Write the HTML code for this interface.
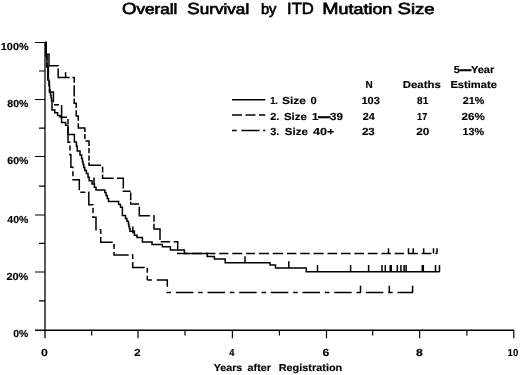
<!DOCTYPE html>
<html><head><meta charset="utf-8"><style>
html,body{margin:0;padding:0;background:#fff;}
svg{display:block;will-change:transform;}
text{font-family:"Liberation Sans",sans-serif;fill:#000;text-rendering:geometricPrecision;}
.t{font-size:14.8px;stroke:#000;stroke-width:0.65px;}
.l{font-size:10.2px;font-weight:bold;stroke:#000;stroke-width:0.15px;}
</style></head><body>
<svg width="520" height="375" viewBox="0 0 520 375">
<rect width="520" height="375" fill="#fff"/>
<g fill="none">
<path d="M45 42V338.3" stroke="#5a5a5a" stroke-width="2"/>
<path d="M35 330.3H513.8" stroke="#000" stroke-width="1.5"/>
<g stroke="#000" stroke-width="1.2">
<path d="M35 42.5H45M35 99.5H45M35 156.5H45M35 215H45M35 272H45"/>
<path d="M39 71H45M39 128.2H45M39 186.2H45M39 243.4H45M39 300.9H45"/>
<path d="M138 330V338.3M232.4 330V338.3M326.5 330V338.3M419.6 330V338.3M513.8 330V338.3"/>
<path d="M91.7 330V335.6M185 330V335.6M279.4 330V335.6M372.7 330V335.6M466.9 330V335.6"/>
</g>
<g stroke="#000" stroke-width="1.5">
<path d="M232 99.7H265.3"/>
<path d="M232 115.1H265.3" stroke-dasharray="10 3.5"/>
<path d="M232 130.5H265.3" stroke-dasharray="4.7 4.7 18.2 3.5"/>
</g>
</g>

<text class="t" x="122.00" y="13.70" textLength="55.40" lengthAdjust="spacingAndGlyphs"><tspan style="font-size:16.2px">O</tspan>verall</text>
<text class="t" x="187.30" y="13.70" textLength="61.90" lengthAdjust="spacingAndGlyphs"><tspan style="font-size:16.2px">S</tspan>urvival</text>
<text class="t" x="260.90" y="13.70" textLength="15.50" lengthAdjust="spacingAndGlyphs">by</text>
<text class="t" x="287.10" y="13.70" textLength="26.80" lengthAdjust="spacingAndGlyphs"><tspan style="font-size:16.2px">I</tspan><tspan style="font-size:16.2px">T</tspan><tspan style="font-size:16.2px">D</tspan></text>
<text class="t" x="322.30" y="13.70" textLength="70.00" lengthAdjust="spacingAndGlyphs"><tspan style="font-size:16.2px">M</tspan>utation</text>
<text class="t" x="397.40" y="13.70" textLength="37.20" lengthAdjust="spacingAndGlyphs"><tspan style="font-size:16.2px">S</tspan>ize</text>
<text class="l" x="0.80" y="50.40" textLength="27.90" lengthAdjust="spacingAndGlyphs">100%</text>
<text class="l" x="7.30" y="106.70" textLength="21.00" lengthAdjust="spacingAndGlyphs">80%</text>
<text class="l" x="7.30" y="164.30" textLength="21.00" lengthAdjust="spacingAndGlyphs">60%</text>
<text class="l" x="7.30" y="222.70" textLength="21.00" lengthAdjust="spacingAndGlyphs">40%</text>
<text class="l" x="6.40" y="279.70" textLength="21.90" lengthAdjust="spacingAndGlyphs">20%</text>
<text class="l" x="13.20" y="336.70" textLength="15.10" lengthAdjust="spacingAndGlyphs">0%</text>
<text class="l" x="40.90" y="356.30" textLength="6.80" lengthAdjust="spacingAndGlyphs">0</text>
<text class="l" x="134.20" y="356.30" textLength="6.30" lengthAdjust="spacingAndGlyphs">2</text>
<text class="l" x="229.30" y="356.30" textLength="5.20" lengthAdjust="spacingAndGlyphs">4</text>
<text class="l" x="322.60" y="356.30" textLength="6.80" lengthAdjust="spacingAndGlyphs">6</text>
<text class="l" x="415.90" y="356.30" textLength="6.80" lengthAdjust="spacingAndGlyphs">8</text>
<text class="l" x="507.60" y="356.30" textLength="10.70" lengthAdjust="spacingAndGlyphs">10</text>
<text class="l" x="213.80" y="370.80" textLength="28.50" lengthAdjust="spacingAndGlyphs">Years</text>
<text class="l" x="247.60" y="370.80" textLength="23.40" lengthAdjust="spacingAndGlyphs">after</text>
<text class="l" x="278.70" y="370.60" textLength="63.60" lengthAdjust="spacingAndGlyphs">Registration</text>
<text class="l" x="270.20" y="103.90" textLength="7.70" lengthAdjust="spacingAndGlyphs">1.</text>
<text class="l" x="282.10" y="103.90" textLength="23.90" lengthAdjust="spacingAndGlyphs">Size</text>
<text class="l" x="310.60" y="103.90" textLength="6.20" lengthAdjust="spacingAndGlyphs">0</text>
<text class="l" x="270.20" y="119.70" textLength="9.10" lengthAdjust="spacingAndGlyphs">2.</text>
<text class="l" x="283.90" y="119.70" textLength="22.90" lengthAdjust="spacingAndGlyphs">Size</text>
<text class="l" x="312.00" y="119.70" textLength="31.00" lengthAdjust="spacingAndGlyphs">1<tspan style="stroke-width:0.9px">—</tspan>39</text>
<text class="l" x="270.20" y="134.90" textLength="9.10" lengthAdjust="spacingAndGlyphs">3.</text>
<text class="l" x="284.80" y="134.90" textLength="23.00" lengthAdjust="spacingAndGlyphs">Size</text>
<text class="l" x="313.10" y="134.90" textLength="21.40" lengthAdjust="spacingAndGlyphs">40+</text>
<text class="l" x="453.80" y="72.80" textLength="40.40" lengthAdjust="spacingAndGlyphs">5<tspan style="stroke-width:0.9px">—</tspan>Year</text>
<text class="l" x="365.40" y="88.30" textLength="7.20" lengthAdjust="spacingAndGlyphs">N</text>
<text class="l" x="402.80" y="88.30" textLength="38.00" lengthAdjust="spacingAndGlyphs">Deaths</text>
<text class="l" x="450.40" y="88.30" textLength="46.50" lengthAdjust="spacingAndGlyphs">Estimate</text>
<text class="l" x="361.40" y="103.80" textLength="18.40" lengthAdjust="spacingAndGlyphs">103</text>
<text class="l" x="362.80" y="119.80" textLength="12.00" lengthAdjust="spacingAndGlyphs">24</text>
<text class="l" x="361.90" y="134.80" textLength="12.90" lengthAdjust="spacingAndGlyphs">23</text>
<text class="l" x="417.10" y="103.80" textLength="11.20" lengthAdjust="spacingAndGlyphs">81</text>
<text class="l" x="417.10" y="119.80" textLength="10.20" lengthAdjust="spacingAndGlyphs">17</text>
<text class="l" x="416.20" y="134.80" textLength="13.10" lengthAdjust="spacingAndGlyphs">20</text>
<text class="l" x="462.80" y="103.80" textLength="21.50" lengthAdjust="spacingAndGlyphs">21%</text>
<text class="l" x="461.60" y="119.80" textLength="23.20" lengthAdjust="spacingAndGlyphs">26%</text>
<text class="l" x="462.60" y="134.80" textLength="21.50" lengthAdjust="spacingAndGlyphs">13%</text>
<g stroke="#000" stroke-width="1.5" fill="none">
<path d="M45 42.4H46V56H47V66H47.8V80H49V86H49.6V90H50.08V92.6H50.56V95.2H51.04V97.8H51.52V100.4H52V103V110H54.8V112.75H57.6V115.5H60V117H61.6V122.4H65.6V125.2H68V134.4H74.4V142H76.4V146H77.2V151H80V155H81.6V158.5H82.4V161.5H83V164.5H83.8V167.5H84.8V170.5H86.4V173.5H88V177.2H89.2V180.8H92V184H94.4V187.2H96V190H104.8V192.4H106.03V195.47H107.27V198.53H108.5V201.6H116.8H118.67V204.4H120.53V207.2H122.4V210V215.6H124H125.47V218.4H126.93V221.2H128.4V224H128.93V226.4H129.47V228.8H130V231.2H134.4V235.2H136.4H137V237.6H142.4V242H152V244.4H162.4V246.8H170.4V250H184.4V253.5H207.2V256.4H214.4V259.1H225.2V262.8H270V265.1H275.5V267.9H306.3V271.7H439.6M94 184V177.4M132.8 233.2V226.6M245 262.8V256.2M288.8 267.9V261.3M317.5 271.7V265.1M350.6 271.7V265.1M368.6 271.7V265.1M382 271.7V265.1M385.3 271.7V265.1M390.2 271.7V265.1M391.2 271.7V265.1M397.3 271.7V265.1M400.9 271.7V265.1M404.1 271.7V265.1M406.1 271.7V265.1M422.3 271.7V265.1M423.3 271.7V265.1M435.5 271.7V265.1M439.5 271.7V265.1"/>
<path d="M45 42.4H46V54.2H49V65.8H58.2V77.5H74.2V103.2H76.2V116H78.3V128H84.9V140.9H89V165.3H102.6V178.3H123.3V191.3H130.7V204.1H139.3V215.8H154V229H160V241.7H177.7V253.6H437" stroke-dasharray="36.80 2.60 20.30 2.90 7.00 2.40 11.20 2.20 11.40 2.20 12.70 2.40 15.30 2.20 5.00 2.30 8.80 1.80 5.30 2.30 5.30 1.40 15.10 3.10 5.60 2.00 15.00 3.10 16.80 2.00 8.00 1.30 7.80 1.50 10.70 2.80 19.70 3.50 6.50 2.00 22.30 2.40 9.40 3.60 11.90 2.80 11.95 3.80 9.70 3.80 9.70 3.80 9.15 3.80 10.10 3.80 8.95 3.80 10.15 3.80 10.35 3.80 9.45 3.80 9.55 3.80 10.15 3.80 9.70 3.80 9.55 3.80 9.60 3.80 9.90 3.80 9.40 3.80 9.45 3.80 9.95 3.80 9.85 3.80 23.50 0.00"/>
<path d="M65.6 77.5V72.2M388.5 253.6V248.3M408.5 253.6V248.3M413.2 253.6V248.3M423.7 253.6V248.3M433.5 253.6V248.3M437 253.6V248.3"/>
<path d="M45 42.4H46V54.56H46.8V67.08H48.4V79.6H49.4V92.12H53.4V104.64H61.6V117.16H68V142.2H70V154.72H70.9V167.24H72.9V179.76H79.3V192.28H88.8V204.8H93V217.32H96V229.84H100.7V242.36H114V254.88H132.7V267.4H147.3V279.92" stroke-dasharray="17.5 3 5 3" stroke-dashoffset="6.3"/>
<path d="M147.3 279.92H167.3V292.44H413" stroke-dasharray="17.5 4.835 4.5 4.835" stroke-dashoffset="22.27"/>
<path d="M360.5 292.44V285.64M389.3 292.44V285.64M412.6 292.44V285.64"/>
</g>
</svg>
</body></html>
